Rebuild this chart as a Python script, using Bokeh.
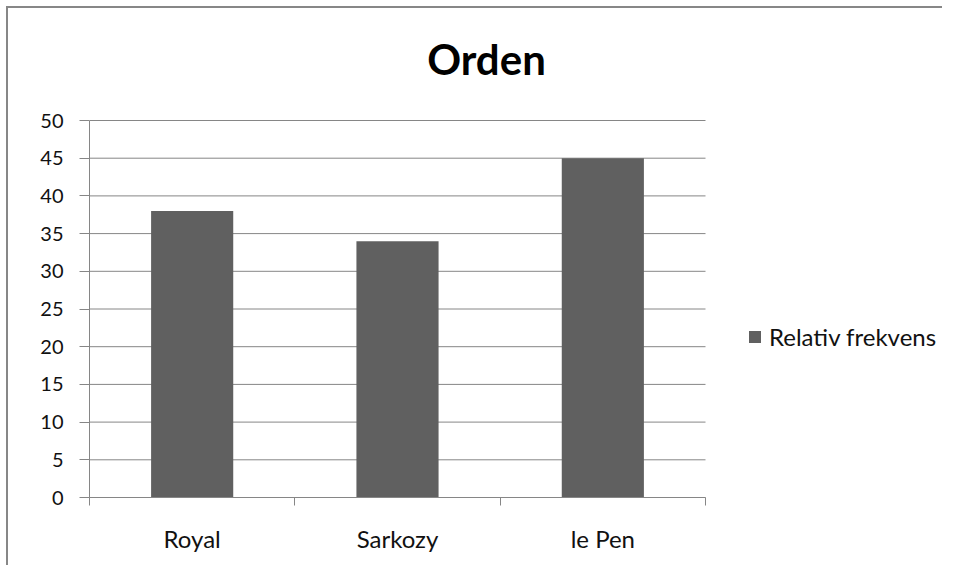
from bokeh.plotting import figure
from bokeh.models import Range1d, FixedTicker, Legend, LegendItem, Label
from bokeh.embed import file_html
from bokeh.resources import INLINE

# ---- data ----
categories = ["Royal", "Sarkozy", "le Pen"]
values = [38, 34, 45]
series_name = "Relativ frekvens"
y_ticks = [0, 5, 10, 15, 20, 25, 30, 35, 40, 45, 50]
y_max = 50
title_text = "Orden"

FONT = "Lato"
GRID = "#868686"
BAR = "#606060"

W, H = 936, 559
LEFT, TOP, BOTTOM, RIGHT = 81, 2, 70, 2
FRAME_W = W - LEFT - RIGHT
FRAME_H = H - TOP - BOTTOM
PLOT_W, PLOT_H = 616, 377  # pixel size of the actual chart area
n = len(categories)
xs = [i + 0.5 for i in range(n)]

p = figure(width=W, height=H, output_backend="svg", toolbar_location=None,
           x_range=Range1d(0, n * FRAME_W / PLOT_W),
           y_range=Range1d(0, y_max * FRAME_H / PLOT_H),
           min_border_left=LEFT, min_border_right=RIGHT, min_border_top=TOP,
           min_border_bottom=BOTTOM)
p.styles = {"border-left": "2px solid #878787", "border-top": "2px solid #878787",
            "margin-left": "6px", "margin-top": "6px"}
p.outline_line_color = None
p.background_fill_color = "white"
p.border_fill_color = "white"
p.xgrid.grid_line_color = None
p.ygrid.grid_line_color = None

# horizontal gridlines limited to the category area
p.segment(x0=[0] * len(y_ticks), x1=[n] * len(y_ticks), y0=y_ticks, y1=y_ticks,
          line_color=GRID, line_width=1)

r = p.vbar(x=xs, top=values, width=0.4, bottom=0, fill_color=BAR, line_color=None)

# y axis
p.yaxis.bounds = (0, y_max)
p.yaxis.ticker = FixedTicker(ticks=y_ticks)
p.yaxis.axis_line_color = GRID
p.yaxis.major_tick_line_color = GRID
p.yaxis.major_tick_out = 10
p.yaxis.major_tick_in = 0
p.yaxis.minor_tick_line_color = None
p.yaxis.major_label_standoff = 16
p.yaxis.major_label_text_font = FONT
p.yaxis.major_label_text_font_size = "20px"
p.yaxis.major_label_text_color = "#111111"

# x axis: labels at centres, tick marks at category boundaries
p.xaxis.bounds = (0, n)
p.xaxis.ticker = FixedTicker(ticks=xs, minor_ticks=list(range(n + 1)))
p.xaxis.major_label_overrides = {x: c for x, c in zip(xs, categories)}
p.xaxis.axis_line_color = GRID
p.xaxis.major_tick_line_color = None
p.xaxis.major_tick_out = 8
p.xaxis.major_tick_in = 0
p.xaxis.minor_tick_line_color = GRID
p.xaxis.minor_tick_out = 8
p.xaxis.minor_tick_in = 0
p.xaxis.major_label_standoff = 18
p.xaxis.major_label_text_font = FONT
p.xaxis.major_label_text_font_size = "24px"
p.xaxis.major_label_text_color = "#111111"

# title (screen units, relative to the plot frame's bottom-left)
p.add_layout(Label(x=397, y=439, x_units="screen", y_units="screen", text=title_text,
                   text_font=FONT, text_font_style="bold", text_font_size="42px",
                   text_align="center", text_baseline="alphabetic", text_color="black"))

legend = Legend(items=[LegendItem(label=series_name, renderers=[r])],
                location=(658, 146), padding=0, margin=0, border_line_color=None,
                background_fill_alpha=0, glyph_width=15, glyph_height=15,
                label_standoff=7, label_text_font=FONT, label_text_font_size="24px",
                label_text_color="#111111")
p.add_layout(legend, "center")

open("out.html", "w").write(file_html(p, INLINE))
